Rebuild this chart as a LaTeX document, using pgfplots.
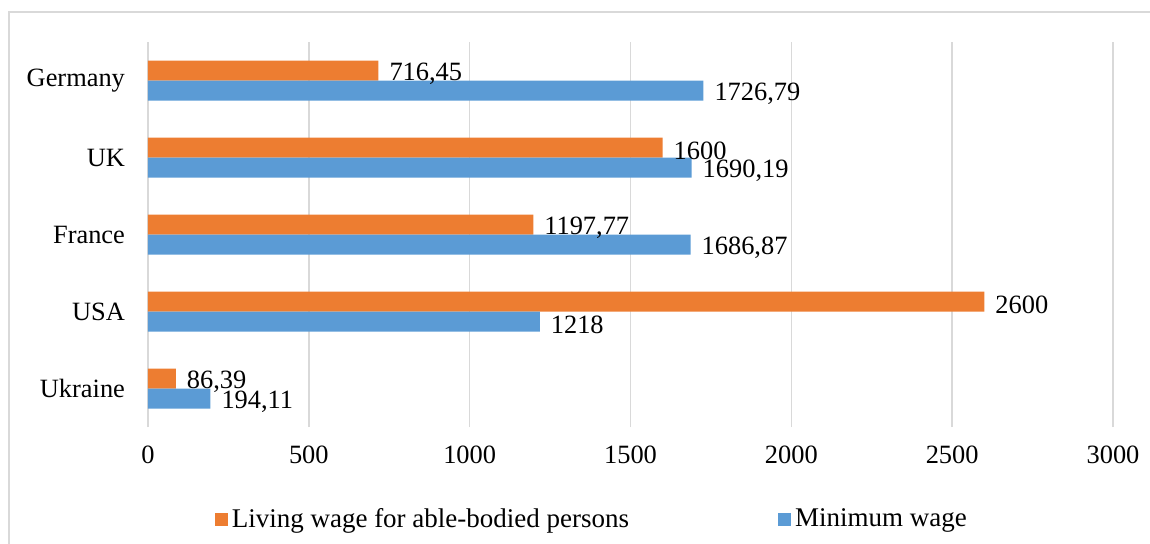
\documentclass[border=0pt]{standalone}
\usepackage{pgfplots}
\pgfplotsset{compat=1.18}
\usepackage{pgfplotstable}
\usepackage{fontspec}
\setmainfont{Liberation Serif}
\definecolor{corange}{HTML}{ED7D31}
\definecolor{cblue}{HTML}{5B9BD5}
\definecolor{cgrid}{HTML}{D9D9D9}

\pgfplotstableread{
y x lbl
0 86.39 86,39
1 2600 2600
2 1197.77 1197,77
3 1600 1600
4 716.45 716,45
}\living
\pgfplotstableread{
y x lbl
0 194.11 194,11
1 1218 1218
2 1686.87 1686,87
3 1690.19 1690,19
4 1726.79 1726,79
}\minwage

\begin{document}
\begin{tikzpicture}[x=1pt,y=1pt]
\useasboundingbox (-74,-58) rectangle (501,213.5);
\draw[cgrid, line width=0.75pt] (-69.5,-70) -- (-69.5,207.5) -- (510,207.5);
\begin{axis}[
 at={(0,0)}, anchor=south west, scale only axis,
 width=482.5pt, height=192.5pt,
 xmin=0, xmax=3000, ymin=-0.5, ymax=4.5,
 xbar, bar width=10pt,
 xtick={0,500,...,3000},
 ytick={0,1,2,3,4},
 yticklabels={Ukraine,USA,France,UK,Germany},
 xmajorgrids, grid style={cgrid, line width=0.75pt},
 axis line style={draw=none},
 major tick length=0pt,
 tick label style={font=\fontsize{13.2}{15}\selectfont},
 xticklabel style={yshift=-6pt},
 yticklabel style={xshift=-8pt},
 /pgf/number format/assume math mode=true,
 /pgf/number format/1000 sep={},
 point meta=explicit symbolic,
 nodes near coords,
 nodes near coords style={anchor=west, font=\fontsize{13.2}{15}\selectfont, xshift=2pt, yshift=-1.5pt, text=black},
 legend style={draw=none, at={(0.461,-0.239)}, anchor=center, legend columns=2,
   font=\fontsize{13.5}{15}\selectfont,
   /tikz/every even column/.append style={column sep=72.5pt}},
]
\addplot[fill=corange, draw=none, bar shift=5pt,
  legend image code/.code={\fill[corange] (0pt,-3.25pt) rectangle (6.5pt,3.25pt);}]
  table[x=x, y=y, meta=lbl] {\living};
\addlegendentry{Living wage for able-bodied persons}
\addplot[fill=cblue, draw=none, bar shift=-5pt,
  legend image code/.code={\fill[cblue] (0pt,-3.25pt) rectangle (6.5pt,3.25pt);}]
  table[x=x, y=y, meta=lbl] {\minwage};
\addlegendentry{Minimum wage}
\end{axis}
\end{tikzpicture}
\end{document}
